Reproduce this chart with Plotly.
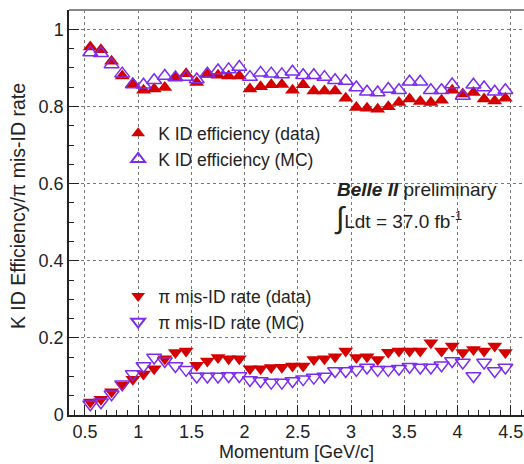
import plotly.graph_objects as go

momentum = [round(0.55 + 0.1 * i, 2) for i in range(40)]

k_eff_data = [0.954, 0.947, 0.917, 0.879, 0.859, 0.842, 0.845, 0.849, 0.875, 0.885,
              0.862, 0.883, 0.881, 0.879, 0.879, 0.845, 0.851, 0.856, 0.857, 0.842,
              0.856, 0.840, 0.840, 0.840, 0.821, 0.797, 0.795, 0.793, 0.799, 0.810,
              0.819, 0.813, 0.810, 0.816, 0.842, 0.832, 0.836, 0.819, 0.814, 0.821]
k_eff_mc = [0.940, 0.938, 0.909, 0.885, 0.857, 0.856, 0.868, 0.879, 0.875, 0.876,
            0.870, 0.885, 0.893, 0.896, 0.902, 0.876, 0.887, 0.885, 0.883, 0.890,
            0.881, 0.881, 0.876, 0.868, 0.866, 0.849, 0.838, 0.836, 0.845, 0.842,
            0.864, 0.864, 0.842, 0.842, 0.857, 0.827, 0.856, 0.849, 0.838, 0.842]
pi_mis_data = [0.034, 0.041, 0.060, 0.077, 0.093, 0.106, 0.120, 0.146, 0.162, 0.166,
               0.129, 0.140, 0.149, 0.146, 0.146, 0.120, 0.120, 0.123, 0.124, 0.127,
               0.127, 0.144, 0.146, 0.151, 0.166, 0.149, 0.151, 0.144, 0.163, 0.166,
               0.166, 0.166, 0.187, 0.166, 0.179, 0.162, 0.170, 0.166, 0.179, 0.162]
pi_mis_mc = [0.028, 0.033, 0.054, 0.080, 0.106, 0.127, 0.149, 0.140, 0.127, 0.117,
             0.100, 0.100, 0.100, 0.101, 0.101, 0.091, 0.088, 0.084, 0.084, 0.088,
             0.093, 0.097, 0.100, 0.114, 0.114, 0.117, 0.123, 0.117, 0.117, 0.120,
             0.125, 0.123, 0.123, 0.129, 0.140, 0.136, 0.101, 0.136, 0.114, 0.123]

x_ticks = [0.5, 1, 1.5, 2, 2.5, 3, 3.5, 4, 4.5]
x_tick_labels = ["0.5", "1", "1.5", "2", "2.5", "3", "3.5", "4", "4.5"]
y_ticks = [0, 0.2, 0.4, 0.6, 0.8, 1.0]
y_tick_labels = ["0", "0.2", "0.4", "0.6", "0.8", "1"]

RED = "#d40000"
VIOLET = "#7a2cf0"
FONT = "Liberation Sans, Arial, sans-serif"
INK = "#222"

fig = go.Figure()
fig.add_trace(go.Scatter(x=momentum, y=k_eff_data, mode="markers", name="K ID efficiency (data)",
                         marker=dict(symbol="triangle-up", size=13, color=RED, line=dict(width=0)),
                         legend="legend"))
fig.add_trace(go.Scatter(x=momentum, y=k_eff_mc, mode="markers", name="K ID efficiency (MC)",
                         marker=dict(symbol="triangle-up-open", size=13, color=VIOLET, line=dict(width=1.5)),
                         legend="legend"))
fig.add_trace(go.Scatter(x=momentum, y=pi_mis_data, mode="markers", name="π mis-ID rate (data)",
                         marker=dict(symbol="triangle-down", size=13, color=RED, line=dict(width=0)),
                         legend="legend2"))
fig.add_trace(go.Scatter(x=momentum, y=pi_mis_mc, mode="markers", name="π mis-ID rate (MC)",
                         marker=dict(symbol="triangle-down-open", size=13, color=VIOLET, line=dict(width=1.5)),
                         legend="legend2"))

legend_common = dict(font=dict(family=FONT, size=17.5, color=INK), bgcolor="rgba(0,0,0,0)",
                     borderwidth=0, xanchor="left", yanchor="top", tracegroupgap=0, itemsizing="constant")
axis_common = dict(ticks="inside", ticklen=10, tickwidth=1.2, tickcolor=INK,
                   showline=True, linecolor=INK, linewidth=1.5,
                   showgrid=True, gridcolor="#777", griddash="dot", gridwidth=1,
                   zeroline=False, tickfont=dict(size=18, color=INK), automargin=False)
fig.update_layout(
    width=524, height=464,
    margin=dict(l=69, r=0, t=10, b=49),
    paper_bgcolor="white", plot_bgcolor="white",
    font=dict(family=FONT, size=16, color=INK),
    legend=dict(x=0.108, y=0.74, **legend_common),
    legend2=dict(x=0.108, y=0.338, **legend_common),
    xaxis=dict(range=[0.35, 4.625], tickvals=x_ticks, ticktext=x_tick_labels,
               minor=dict(dtick=0.1, tick0=0.5, ticks="inside", ticklen=5, tickcolor=INK, showgrid=False),
               **axis_common),
    yaxis=dict(range=[0, 1.05], tickvals=y_ticks, ticktext=y_tick_labels,
               minor=dict(dtick=0.05, tick0=0, ticks="inside", ticklen=5, tickcolor=INK, showgrid=False),
               ticklabelstandoff=0, **axis_common),
)

fig.add_shape(type="line", xref="paper", yref="paper", x0=0, x1=1, y0=1, y1=1,
              line=dict(color="#888", width=2))

fig.add_annotation(xref="paper", yref="paper", x=0.499, y=-0.091, xanchor="center", yanchor="middle",
                   showarrow=False, font=dict(size=18, color=INK), text="Momentum [GeV/c]")
fig.add_annotation(xref="paper", yref="paper", x=-0.112, y=0.516, xanchor="center", yanchor="middle",
                   showarrow=False, textangle=-90, font=dict(size=19.5, color=INK),
                   text="K ID Efficiency/π mis-ID rate")

fig.add_annotation(xref="paper", yref="paper", x=0.585, y=0.556, xanchor="left", yanchor="middle",
                   showarrow=False, font=dict(size=19, color=INK),
                   text="<b><i>Belle II</i></b> preliminary")
fig.add_annotation(xref="paper", yref="paper", x=0.578, y=0.487, xanchor="left", yanchor="middle",
                   showarrow=False, font=dict(size=19, color=INK),
                   text="<span style='font-size:30px'>∫</span>Ldt = 37.0 fb<sup>-1</sup>")

fig.write_html("out.html", config={"displayModeBar": False},
               post_script="document.body.style.margin='0';document.body.style.overflow='hidden';")
